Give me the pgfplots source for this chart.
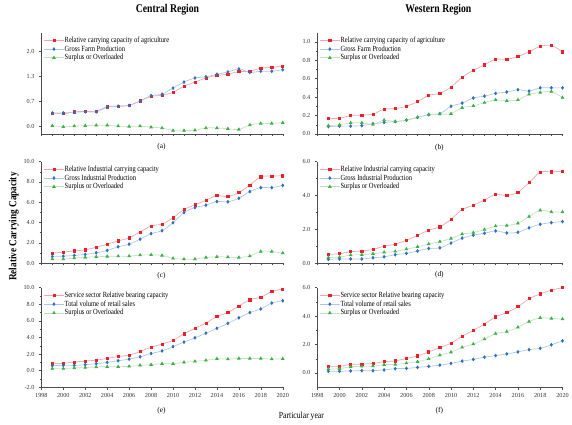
\documentclass[border=0pt]{standalone}
\usepackage{pgfplots}
\pgfplotsset{compat=1.18}
\usepackage{pgfplotstable}
\usepackage{fontspec}
\setmainfont{Liberation Serif}
\definecolor{mr}{HTML}{E8222A}
\definecolor{lr}{HTML}{F5A5A8}
\definecolor{mb}{HTML}{2F6EBA}
\definecolor{lb}{HTML}{A9C9EA}
\definecolor{mg}{HTML}{3DB04A}
\definecolor{lg}{HTML}{BFE5BC}
\newcommand{\sx}[1]{\scalebox{0.82}[1]{#1}}

\pgfplotstableread{
year r b g
1999 0.36 0.36 0.02
2000 0.34 0.36 -0.01
2001 0.39 0.38 0.01
2002 0.40 0.39 0.02
2003 0.41 0.39 0.03
2004 0.52 0.51 0.03
2005 0.54 0.54 0.01
2006 0.56 0.56 0.00
2007 0.68 0.68 0.01
2008 0.80 0.82 -0.02
2009 0.83 0.86 -0.04
2010 0.91 1.02 -0.11
2011 1.07 1.18 -0.11
2012 1.18 1.29 -0.10
2013 1.29 1.32 -0.04
2014 1.36 1.39 -0.04
2015 1.39 1.45 -0.06
2016 1.46 1.53 -0.08
2017 1.47 1.44 0.04
2018 1.55 1.47 0.08
2019 1.57 1.47 0.08
2020 1.61 1.51 0.10
}\tA
\pgfplotstableread{
year r b g
1999 0.17 0.080 0.090
2000 0.17 0.085 0.100
2001 0.20 0.085 0.120
2002 0.205 0.090 0.120
2003 0.215 0.110 0.105
2004 0.27 0.125 0.150
2005 0.275 0.135 0.135
2006 0.30 0.150 0.150
2007 0.35 0.180 0.180
2008 0.42 0.210 0.210
2009 0.44 0.220 0.215
2010 0.51 0.300 0.220
2011 0.615 0.335 0.285
2012 0.69 0.390 0.305
2013 0.75 0.410 0.340
2014 0.81 0.440 0.370
2015 0.81 0.455 0.360
2016 0.84 0.480 0.370
2017 0.89 0.465 0.430
2018 0.95 0.500 0.450
2019 0.96 0.500 0.460
2020 0.89 0.500 0.395
}\tB
\pgfplotstableread{
year r b g
1999 0.98 0.65 0.39
2000 1.07 0.68 0.39
2001 1.20 0.75 0.49
2002 1.30 0.85 0.55
2003 1.56 1.01 0.62
2004 1.86 1.24 0.65
2005 2.18 1.60 0.68
2006 2.48 1.86 0.68
2007 3.06 2.35 0.78
2008 3.65 2.90 0.81
2009 3.84 3.19 0.75
2010 4.46 3.97 0.46
2011 5.28 4.98 0.39
2012 5.73 5.47 0.39
2013 6.19 5.70 0.55
2014 6.64 6.06 0.62
2015 6.55 6.03 0.59
2016 6.94 6.38 0.55
2017 7.69 7.04 0.68
2018 8.50 7.43 1.14
2019 8.57 7.43 1.14
2020 8.60 7.65 0.98
}\tC
\pgfplotstableread{
year r b g
1999 0.51 0.22 0.33
2000 0.55 0.24 0.35
2001 0.67 0.24 0.47
2002 0.71 0.24 0.49
2003 0.80 0.31 0.55
2004 1.00 0.37 0.63
2005 1.12 0.49 0.69
2006 1.35 0.57 0.82
2007 1.63 0.71 0.96
2008 1.94 0.86 1.12
2009 2.14 0.90 1.27
2010 2.59 1.18 1.45
2011 3.16 1.47 1.71
2012 3.41 1.65 1.80
2013 3.73 1.76 1.98
2014 4.06 1.90 2.18
2015 4.00 1.78 2.22
2016 4.18 1.82 2.35
2017 4.76 2.08 2.75
2018 5.37 2.29 3.12
2019 5.39 2.39 3.02
2020 5.43 2.45 3.02
}\tD
\pgfplotstableread{
year r b g
1999 0.83 0.59 0.24
2000 0.87 0.63 0.24
2001 1.03 0.63 0.32
2002 1.15 0.71 0.36
2003 1.26 0.83 0.43
2004 1.46 0.99 0.47
2005 1.70 1.19 0.47
2006 1.86 1.38 0.51
2007 2.29 1.66 0.63
2008 2.81 2.06 0.71
2009 3.20 2.37 0.83
2010 3.64 2.89 0.83
2011 4.43 3.44 0.99
2012 5.10 3.95 1.11
2013 5.73 4.51 1.23
2014 6.52 5.10 1.42
2015 7.00 5.69 1.38
2016 7.79 6.36 1.46
2017 8.54 7.00 1.46
2018 8.85 7.43 1.46
2019 9.53 8.14 1.38
2020 9.84 8.42 1.42
}\tE
\pgfplotstableread{
year r b g
1999 0.44 0.12 0.28
2000 0.46 0.12 0.30
2001 0.60 0.14 0.44
2002 0.62 0.16 0.46
2003 0.67 0.16 0.48
2004 0.79 0.21 0.58
2005 0.85 0.30 0.60
2006 1.02 0.32 0.69
2007 1.20 0.39 0.79
2008 1.48 0.46 0.99
2009 1.78 0.55 1.25
2010 2.10 0.67 1.46
2011 2.58 0.83 1.80
2012 3.00 0.95 2.03
2013 3.44 1.11 2.38
2014 3.95 1.22 2.77
2015 4.25 1.34 2.91
2016 4.66 1.48 3.21
2017 5.22 1.64 3.62
2018 5.56 1.73 3.88
2019 5.82 1.98 3.83
2020 6.00 2.26 3.79
}\tF

\pgfplotsset{
  panel/.style={
    scale only axis, anchor=south west,
    axis x line*=bottom, axis y line*=left,
    axis line style={-, black!70, line width=0.5pt},
    xmin=1998, xmax=2020,
    tick align=outside, tick pos=left,
    major tick length=2.5pt, minor tick length=1.5pt,
    every tick/.style={black!70, line width=0.4pt},
    ticklabel style={font=\fontsize{6.3}{7}\selectfont, text=black!80},
    /pgf/number format/.cd, fixed, fixed zerofill, precision=1, assume math mode=true,
    /pgfplots/.cd,
    y tick label style={xshift=-1pt},
    minor y tick num=1,
    legend style={at={(0.005,0.975)}, anchor=north west, draw=none, fill=none,
      font=\fontsize{8}{8.5}\selectfont, row sep=0.6pt, inner sep=1pt,
      nodes={inner sep=0.6pt}},
    legend cell align=left,
    legend image code/.code={\draw[mark repeat=2,mark phase=2] plot coordinates {(0pt,0pt) (10pt,0pt) (20pt,0pt)};},
  },
  toprow/.style={xtick={1998,...,2020}, xticklabels={}},
  botrow/.style={xtick={1998,2000,...,2020}, minor x tick num=1,
     xticklabel style={/pgf/number format/.cd, 1000 sep={}, precision=0, fixed zerofill=false}},
  sr/.style={lr, line width=0.7pt, smooth, mark=square*, mark size=1.1pt, mark options={mr, fill=mr}},
  sb/.style={lb, line width=0.7pt, smooth, mark=diamond*, mark size=1.4pt, mark options={mb, fill=mb}},
  sg/.style={lg, line width=0.7pt, smooth, mark=triangle*, mark size=1.5pt, mark options={mg, fill=mg}},
}

\begin{document}
\begin{tikzpicture}
\path (0pt,0pt) rectangle (572pt,431pt);

% titles
\node[font=\fontsize{12}{14}\selectfont\bfseries] at (170pt,421pt) {\sx{Central Region}};
\node[font=\fontsize{12}{14}\selectfont\bfseries] at (445pt,421pt) {\sx{Western Region}};

% (a)
\begin{axis}[panel, toprow, at={(42pt,295pt)}, width=245pt, height=103pt,
  ymin=-0.2, ymax=2.5, ytick={0,0.6667,1.3333,2}, yticklabels={0.0,0.7,1.3,2.0}]
\addplot[sr] table[x=year,y=r]{\tA};
\addplot[sb] table[x=year,y=b]{\tA};
\addplot[sg] table[x=year,y=g]{\tA};
\legend{\sx{Relative carrying capacity of agriculture},\sx{Gross Farm Production},\sx{Surplus or Overloaded}}
\end{axis}

% (b)
\begin{axis}[panel, toprow, at={(322pt,295pt)}, width=249pt, height=103pt,
  ymin=0, ymax=1.1, ytick={0,0.2,...,1.0}]
\addplot[sr] table[x=year,y=r]{\tB};
\addplot[sb] table[x=year,y=b]{\tB};
\addplot[sg] table[x=year,y=g]{\tB};
\legend{\sx{Relative carrying capacity of agriculture},\sx{Gross Farm Production},\sx{Surplus or Overloaded}}
\end{axis}

% (c)
\begin{axis}[panel, toprow, at={(42pt,164pt)}, width=245pt, height=103pt,
  ymin=0, ymax=10, ytick={0,2,...,10}]
\addplot[sr] table[x=year,y=r]{\tC};
\addplot[sb] table[x=year,y=b]{\tC};
\addplot[sg] table[x=year,y=g]{\tC};
\legend{\sx{Relative Industrial carrying capacity},\sx{Gross Industrial Production},\sx{Surplus or Overloaded}}
\end{axis}

% (d)
\begin{axis}[panel, toprow, at={(322pt,164pt)}, width=249pt, height=103pt,
  ymin=0, ymax=6, ytick={0,2,4,6}]
\addplot[sr] table[x=year,y=r]{\tD};
\addplot[sb] table[x=year,y=b]{\tD};
\addplot[sg] table[x=year,y=g]{\tD};
\legend{\sx{Relative Industrial carrying capacity},\sx{Gross Industrial Production},\sx{Surplus or Overloaded}}
\end{axis}

% (e)
\begin{axis}[panel, botrow, at={(42pt,38pt)}, width=245pt, height=101pt,
  ymin=-2, ymax=10, ytick={-2,0,...,10}]
\addplot[sr] table[x=year,y=r]{\tE};
\addplot[sb] table[x=year,y=b]{\tE};
\addplot[sg] table[x=year,y=g]{\tE};
\legend{\sx{Service sector Relative bearing capacity},\sx{Total volume of retail sales},\sx{Surplus or Overloaded}}
\end{axis}

% (f)
\begin{axis}[panel, botrow, at={(322pt,38pt)}, width=249pt, height=101pt,
  ymin=-1, ymax=6, ytick={0,2,4,6}]
\addplot[sr] table[x=year,y=r]{\tF};
\addplot[sb] table[x=year,y=b]{\tF};
\addplot[sg] table[x=year,y=g]{\tF};
\legend{\sx{Service sector Relative bearing capacity},\sx{Total volume of retail sales},\sx{Surplus or Overloaded}}
\end{axis}

% sub-labels
\node[font=\fontsize{7.5}{9}\selectfont] at (164pt,282pt) {(a)};
\node[font=\fontsize{7.5}{9}\selectfont] at (446pt,281pt) {(b)};
\node[font=\fontsize{7.5}{9}\selectfont] at (164pt,151pt) {(c)};
\node[font=\fontsize{7.5}{9}\selectfont] at (446pt,152pt) {(d)};
\node[font=\fontsize{7.5}{9}\selectfont] at (164pt,14pt) {(e)};
\node[font=\fontsize{7.5}{9}\selectfont] at (446pt,14pt) {(f)};

% axis titles
\node[font=\fontsize{9.5}{11}\selectfont] at (306pt,8pt) {\sx{Particular year}};
\node[font=\fontsize{11}{13}\selectfont\bfseries, rotate=90] at (14pt,201pt) {\scalebox{0.85}[1]{Relative Carrying Capacity}};
\end{tikzpicture}
\end{document}
